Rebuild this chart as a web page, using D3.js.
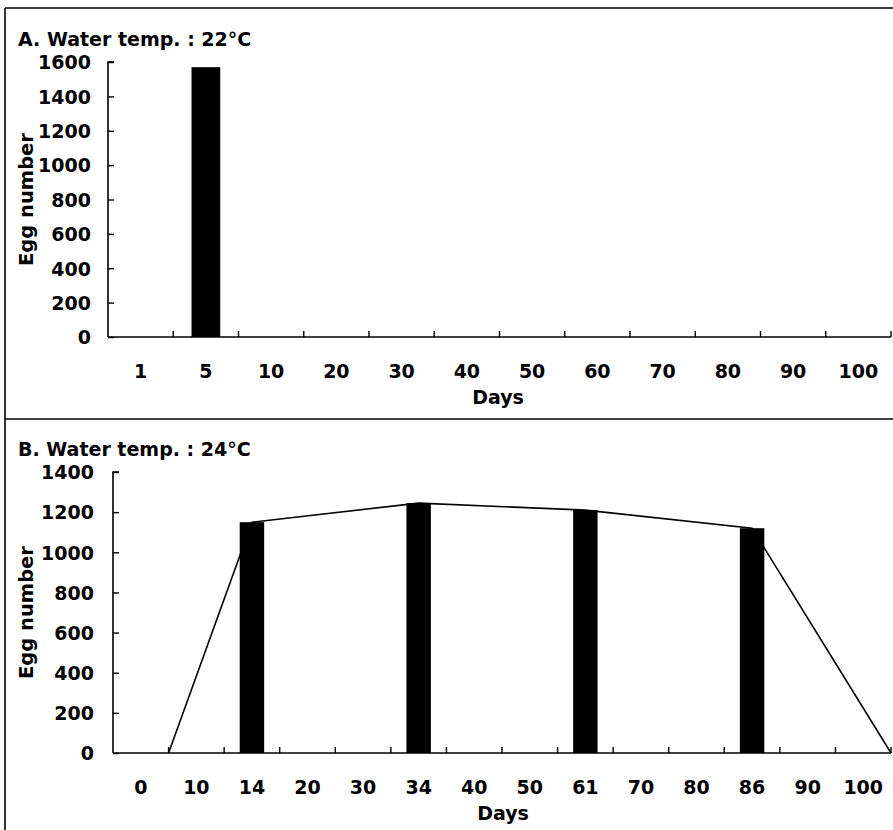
<!doctype html>
<html>
  <head>
    <script src="https://cdnjs.cloudflare.com/ajax/libs/d3/7.8.5/d3.min.js"></script>
    <style>
      body { margin: 0; background: #fff; }
      text { font-family: "DejaVu Sans", sans-serif; font-weight: bold; fill: #000; }
    </style>
  </head>
  <body>
    <svg></svg>
    <script>
      var width = 893,
          height = 830;

      // panel A : 22 C
      var daysA = ["1", "5", "10", "20", "30", "40", "50", "60", "70", "80", "90", "100"];
      var barsA = [{day: "5", eggs: 1570}];
      var ticksA = [0, 200, 400, 600, 800, 1000, 1200, 1400, 1600];

      // panel B : 24 C
      var daysB = ["0", "10", "14", "20", "30", "34", "40", "50", "61", "70", "80", "86", "90", "100"];
      var barsB = [
        {day: "14", eggs: 1150},
        {day: "34", eggs: 1245},
        {day: "61", eggs: 1210},
        {day: "86", eggs: 1120}
      ];
      // line goes from band edge to bar centers and back to 0
      var lineB = [
        {day: "10", at: "start", eggs: 0},
        {day: "14", at: "mid", eggs: 1150},
        {day: "34", at: "mid", eggs: 1245},
        {day: "61", at: "mid", eggs: 1210},
        {day: "86", at: "mid", eggs: 1120},
        {day: "100", at: "end", eggs: 0}
      ];
      var ticksB = [0, 200, 400, 600, 800, 1000, 1200, 1400];

      var svg = d3.select("svg").attr("width", width).attr("height", height);

      // outer frame
      svg.append("line").attr("x1", 5).attr("x2", width).attr("y1", 8).attr("y2", 8)
        .attr("stroke", "#000").attr("stroke-width", 1.6);
      svg.append("line").attr("x1", 5).attr("x2", 5).attr("y1", 8).attr("y2", height)
        .attr("stroke", "#000").attr("stroke-width", 1.6);
      svg.append("line").attr("x1", 5).attr("x2", width).attr("y1", 419).attr("y2", 419)
        .attr("stroke", "#000").attr("stroke-width", 1.6);

      function panel(opt) {
        var x = d3.scaleBand().domain(opt.days).range([opt.left, opt.right]);
        var y = d3.scaleLinear().domain([0, opt.max]).range([opt.bottom, opt.top]);
        var g = svg.append("g");

        // title
        g.append("text").attr("x", 18).attr("y", opt.top - 16)
          .attr("font-size", "19px")
          .text(opt.title);

        // bars
        var bw = x.bandwidth() * 0.44;
        g.selectAll("rect").data(opt.bars).enter().append("rect")
          .attr("x", d => x(d.day) + x.bandwidth() / 2 - bw / 2)
          .attr("y", d => y(d.eggs))
          .attr("width", bw)
          .attr("height", d => y(0) - y(d.eggs))
          .attr("fill", "#000");

        if (opt.line) {
          var px = d => x(d.day) + (d.at === "start" ? 0 : d.at === "mid" ? x.bandwidth() / 2 : x.bandwidth());
          g.append("path").datum(opt.line)
            .attr("d", d3.line().x(px).y(d => y(d.eggs)))
            .attr("fill", "none").attr("stroke", "#000").attr("stroke-width", 1.6);
        }

        // y axis
        var ya = g.append("g").attr("transform", "translate(" + opt.left + ",0)")
          .call(d3.axisRight(y).tickValues(opt.ticks).tickSize(6).tickFormat(d3.format("d")));
        ya.select(".domain").attr("d", "M" + 6 + "," + opt.top + "H0V" + opt.bottom)
          .attr("stroke-width", 1.6);
        ya.selectAll(".tick line").attr("stroke-width", 1.4);
        ya.selectAll(".tick text").attr("x", opt.labelX - opt.left).attr("text-anchor", "end")
          .attr("dy", "0.36em").attr("font-size", "19px").attr("font-family", null);

        // x axis, ticks on band edges
        var edges = opt.days.map(d => x(d)).concat([opt.right]);
        g.append("line").attr("x1", opt.left).attr("x2", opt.right)
          .attr("y1", opt.bottom).attr("y2", opt.bottom)
          .attr("stroke", "#000").attr("stroke-width", 1.6);
        g.selectAll(".xt").data(edges.slice(1)).enter().append("line")
          .attr("x1", d => d).attr("x2", d => d)
          .attr("y1", opt.bottom).attr("y2", opt.bottom - 6)
          .attr("stroke", "#000").attr("stroke-width", 1.4);
        g.selectAll(".xl").data(opt.days).enter().append("text")
          .attr("x", d => x(d) + x.bandwidth() / 2)
          .attr("y", opt.bottom + 41)
          .attr("text-anchor", "middle")
          .attr("font-size", "19px")
          .text(d => d);

        g.append("text").attr("x", opt.daysX).attr("y", opt.bottom + 67)
          .attr("text-anchor", "middle").attr("font-size", "19px").text("Days");

        g.append("text")
          .attr("transform", "translate(33," + (opt.top + opt.bottom) / 2 + ") rotate(-90)")
          .attr("text-anchor", "middle").attr("font-size", "19.5px")
          .text("Egg number");
      }

      panel({
        title: "A. Water temp. : 22\u00B0C",
        days: daysA, bars: barsA, ticks: ticksA, max: 1600,
        left: 108, right: 891, top: 62, bottom: 337, labelX: 91, daysX: 498
      });

      panel({
        title: "B. Water temp. : 24\u00B0C",
        days: daysB, bars: barsB, line: lineB, ticks: ticksB, max: 1400,
        left: 113, right: 891, top: 472, bottom: 753, labelX: 94, daysX: 503
      });
    </script>
  </body>
</html>
